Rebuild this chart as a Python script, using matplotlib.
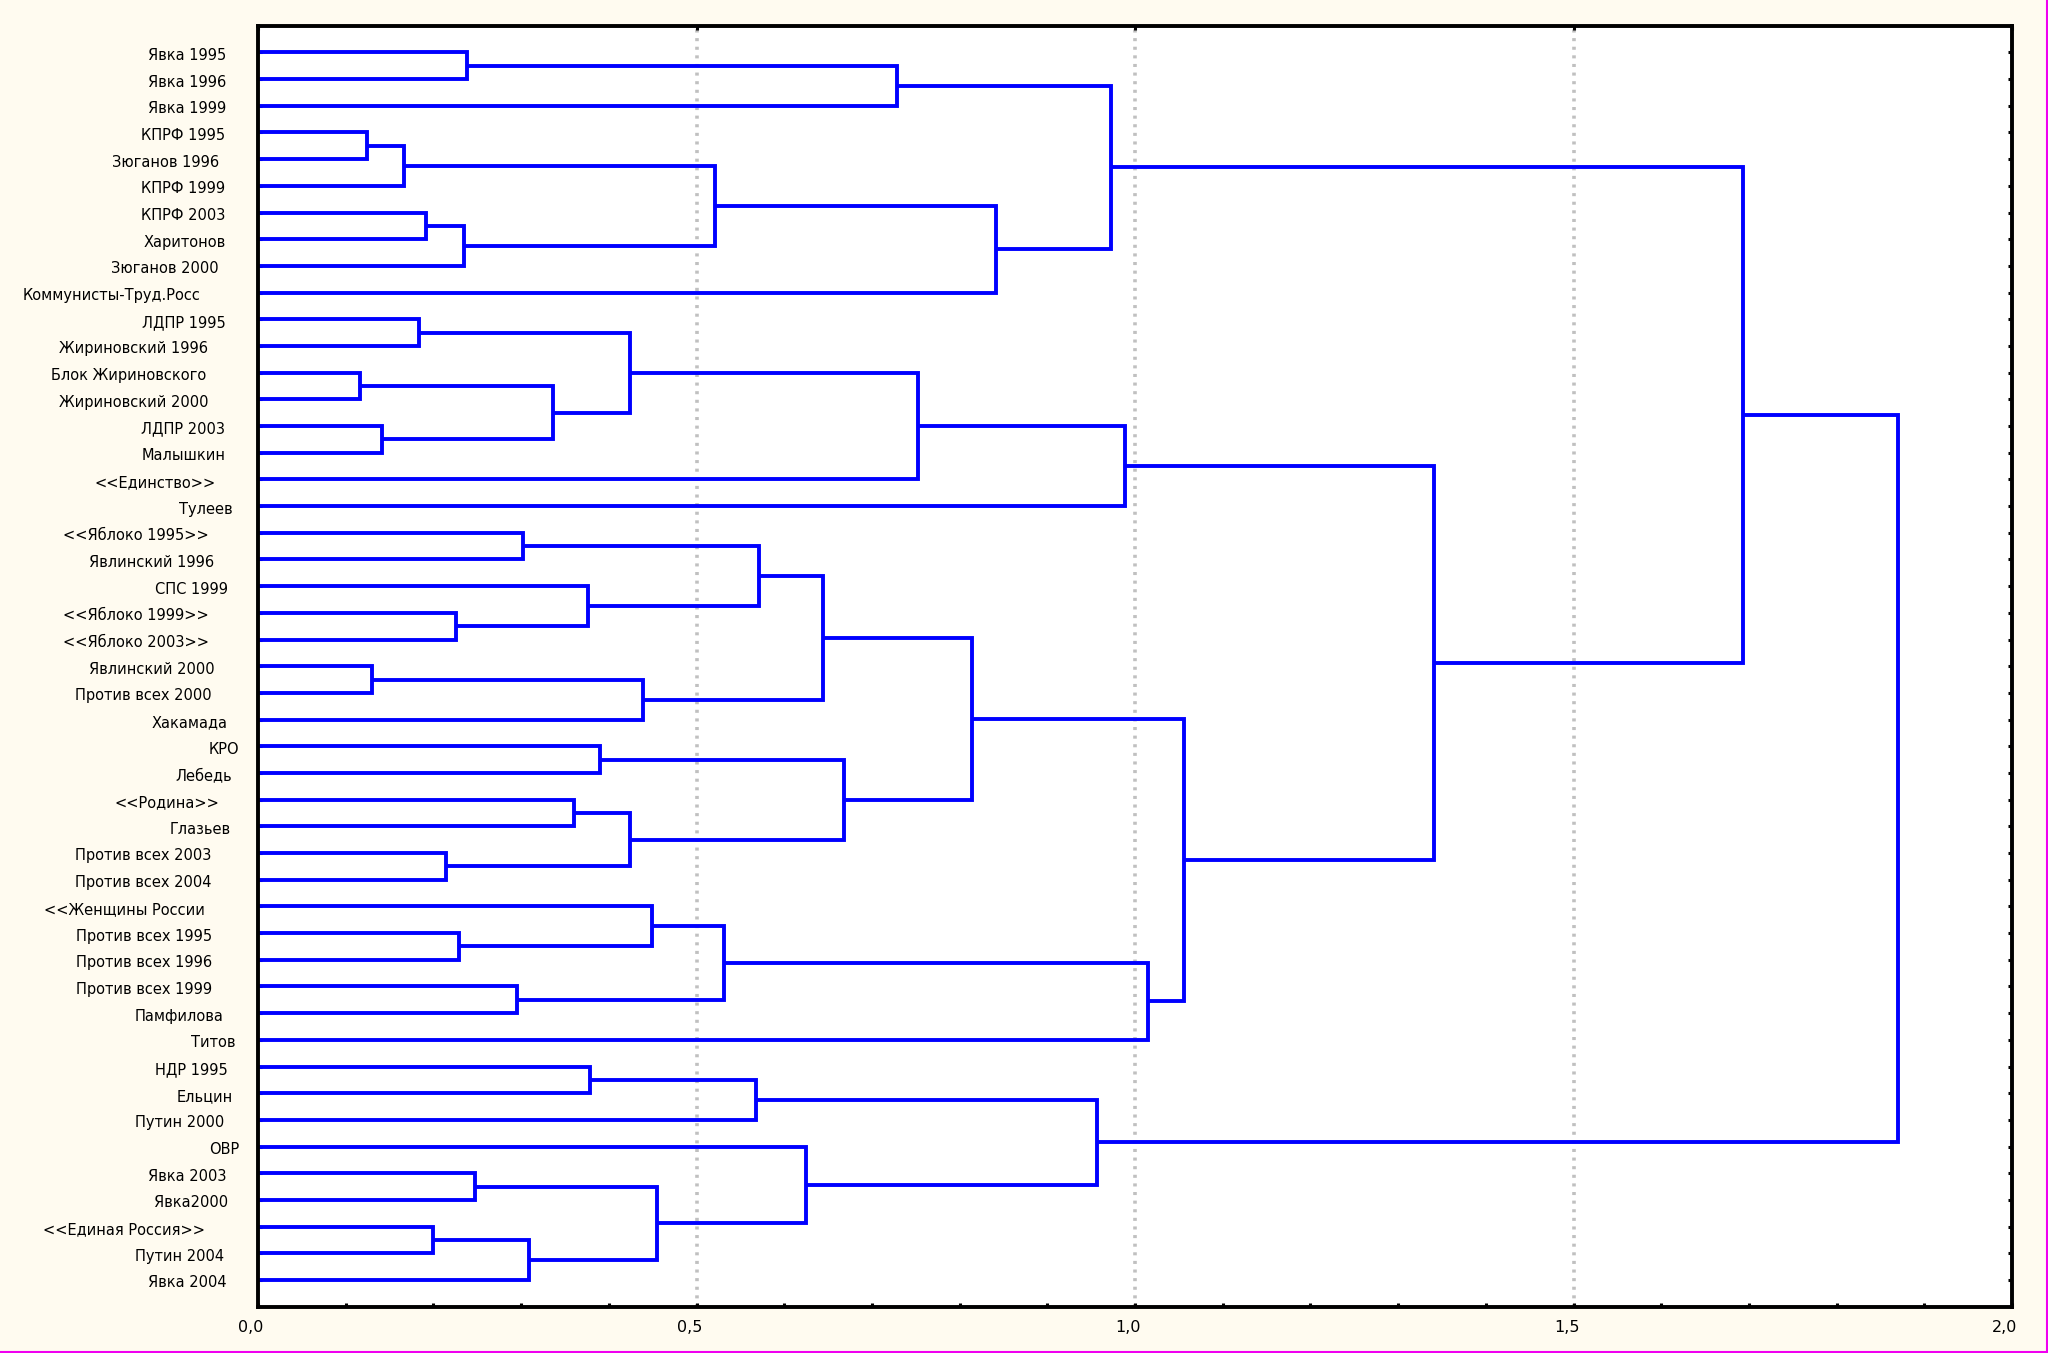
import matplotlib
matplotlib.use('Agg')
import matplotlib.pyplot as plt
from matplotlib.lines import Line2D
from matplotlib.ticker import MultipleLocator
from matplotlib.transforms import blended_transform_factory

plt.rcParams['font.family'] = ['Liberation Sans Narrow', 'DejaVu Sans Condensed', 'DejaVu Sans']
plt.rcParams['lines.scale_dashes'] = False

# ---------------- data ----------------
leaf_labels = [
    'Явка 1995', 'Явка 1996', 'Явка 1999', 'КПРФ 1995', 'Зюганов 1996',
    'КПРФ 1999', 'КПРФ 2003', 'Харитонов', 'Зюганов 2000', 'Коммунисты-Труд.Росс',
    'ЛДПР 1995', 'Жириновский 1996', 'Блок Жириновского', 'Жириновский 2000',
    'ЛДПР 2003', 'Малышкин', '<<Единство>>', 'Тулеев', '<<Яблоко 1995>>',
    'Явлинский 1996', 'СПС 1999', '<<Яблоко 1999>>', '<<Яблоко 2003>>',
    'Явлинский 2000', 'Против всех 2000', 'Хакамада', 'КРО', 'Лебедь',
    '<<Родина>>', 'Глазьев', 'Против всех 2003', 'Против всех 2004',
    '<<Женщины России', 'Против всех 1995', 'Против всех 1996',
    'Против всех 1999', 'Памфилова', 'Титов', 'НДР 1995', 'Ельцин',
    'Путин 2000', 'ОВР', 'Явка 2003', 'Явка2000', '<<Единая Россия>>',
    'Путин 2004', 'Явка 2004',
]

# linkage: (child_a, child_b, distance); leaves are 0..46, new clusters 47, 48, ...
merges = [
    (0, 1, 0.238), (47, 2, 0.729),
    (3, 4, 0.124), (49, 5, 0.166), (6, 7, 0.191), (51, 8, 0.235),
    (50, 52, 0.521), (53, 9, 0.842), (48, 54, 0.973),
    (10, 11, 0.184), (12, 13, 0.116), (14, 15, 0.141), (57, 58, 0.336),
    (56, 59, 0.424), (60, 16, 0.753), (61, 17, 0.989),
    (18, 19, 0.302), (21, 22, 0.226), (20, 64, 0.376), (63, 65, 0.571),
    (23, 24, 0.130), (67, 25, 0.439), (66, 68, 0.644),
    (26, 27, 0.390), (28, 29, 0.360), (30, 31, 0.214), (71, 72, 0.424),
    (70, 73, 0.668), (69, 74, 0.814),
    (33, 34, 0.229), (32, 76, 0.449), (35, 36, 0.295), (77, 78, 0.531),
    (79, 37, 1.0145), (75, 80, 1.056), (62, 81, 1.341), (55, 82, 1.693),
    (38, 39, 0.379), (84, 40, 0.568), (42, 43, 0.247), (44, 45, 0.1995),
    (87, 46, 0.309), (86, 88, 0.455), (41, 89, 0.625), (85, 90, 0.957),
    (83, 91, 1.870),
]

x_ticks = [0.0, 0.5, 1.0, 1.5, 2.0]
x_tick_labels = ['0,0', '0,5', '1,0', '1,5', '2,0']

# ---------------- figure ----------------
W, H = 2048, 1353
fig = plt.figure(figsize=(W / 100, H / 100), dpi=100, facecolor='#FFFBF0')
ax = fig.add_axes([258 / W, 46.3 / H, 1754 / W, 1281 / H])
ax.set_facecolor('white')

n = len(leaf_labels)
pos_y = {i: i + 1 for i in range(n)}
dist = {i: 0.0 for i in range(n)}
for k, (a, b, h) in enumerate(merges):
    node = n + k
    ya, yb = pos_y[a], pos_y[b]
    ax.plot([dist[a], h, h, dist[b]], [ya, ya, yb, yb], color='#0000FF',
            lw=2.8, solid_joinstyle='miter', solid_capstyle='butt', zorder=3)
    pos_y[node] = (ya + yb) / 2
    dist[node] = h

ax.set_xlim(0, 2)
ax.set_ylim(n + 1, 0)

for g in x_ticks[1:-1]:
    ax.axvline(g, color='#C0C0C0', lw=2.6, dashes=(2.2, 4.0), zorder=1)

for sp in ax.spines.values():
    sp.set_linewidth(2.8)
    sp.set_color('black')
    sp.set_zorder(4)

ax.set_xticks(x_ticks)
ax.xaxis.set_minor_locator(MultipleLocator(0.1))
ax.tick_params(axis='x', which='major', direction='in', top=True, bottom=True,
               length=3, width=2.2, labelbottom=False, labeltop=False)
ax.tick_params(axis='x', which='minor', direction='in', top=False, bottom=True,
               length=3, width=2.2)
ax.set_yticks(range(1, n + 1))
ax.tick_params(axis='y', which='major', direction='in', left=True, right=True,
               length=3, width=2.2, labelleft=False, labelright=False)

# ---------------- labels ----------------
fs_y = 10.5
fs_x = 11.5
ytr = blended_transform_factory(fig.transFigure, ax.transData)
ytexts = [ax.text(0, i + 1 + 0.28, lab, transform=ytr, ha='left', va='baseline',
                  fontsize=fs_y, color='black') for i, lab in enumerate(leaf_labels)]
xtexts = [fig.text(0, 21 / H, lab, ha='left', va='baseline', fontsize=fs_x,
                   color='black') for lab in x_tick_labels]

fig.canvas.draw()
renderer = fig.canvas.get_renderer()
yw = [t.get_window_extent(renderer).width for t in ytexts]
R = 247.0
kfac = (R - 23.0) / max(yw)
for t, w in zip(ytexts, yw):
    t.set_x((R - kfac * w) / W)
for t, v in zip(xtexts, x_ticks):
    w = t.get_window_extent(renderer).width
    px = ax.transData.transform((v, 1))[0]
    t.set_x((px - 7.0 - w / 2) / W)

# magenta frame on right and bottom edges
fig.add_artist(Line2D([1 - 1.5 / W, 1 - 1.5 / W], [0, 1], transform=fig.transFigure,
                      color='#F000F0', lw=1.5))
fig.add_artist(Line2D([0, 1], [1.5 / H, 1.5 / H], transform=fig.transFigure,
                      color='#F000F0', lw=1.5))

fig.savefig('out.png', dpi=100, facecolor=fig.get_facecolor())
